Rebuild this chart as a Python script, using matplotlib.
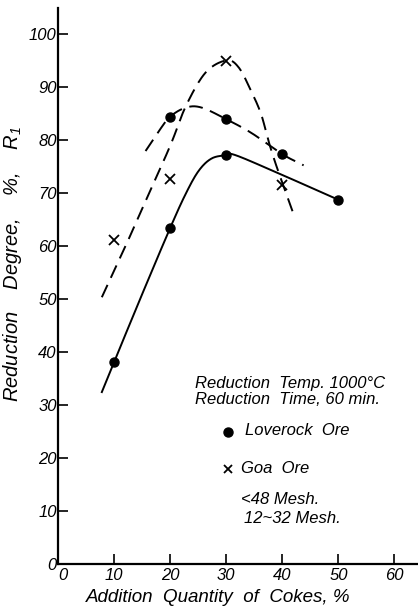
import numpy as np
import matplotlib
matplotlib.use("Agg")
import matplotlib.pyplot as plt

plt.rcParams["font.family"] = ["Liberation Sans", "DejaVu Sans"]
plt.rcParams["font.style"] = "italic"
plt.rcParams["mathtext.fontset"] = "custom"
plt.rcParams["mathtext.it"] = "Liberation Sans:italic"
plt.rcParams["mathtext.rm"] = "Liberation Sans:italic"

# measured points
loverock_fine_x = [10, 20, 30, 50]
loverock_fine_y = [38.2, 63.5, 77.2, 68.8]
loverock_coarse_x = [20, 30, 40]
loverock_coarse_y = [84.5, 84.0, 77.4]
goa_x = [10, 20, 30, 40]
goa_y = [61.2, 72.8, 95.0, 71.5]

# hand-faired curves (anchor points along each drawn line)
solid_curve_x = [7.8, 10, 15, 20, 22.8, 25.1, 27.4, 30, 31.7, 39.3, 50]
solid_curve_y = [32.5, 38.2, 51.0, 63.5, 70.0, 74.3, 76.6, 77.2, 77.2, 73.8, 68.8]
coarse_curve_x = [15.6, 18, 20, 22.8, 25.6, 30, 34.5, 40, 43.8]
coarse_curve_y = [78.0, 81.8, 84.5, 86.2, 86.2, 84.0, 81.4, 77.4, 75.3]
goa_curve_x = [7.8, 12, 16, 20, 22.8, 26.3, 30, 32.2, 34.4, 36.2, 37.5, 39, 42.2]
goa_curve_y = [50.4, 60.0, 69.5, 79.0, 86.5, 92.8, 95.1, 93.8, 89.4, 85.0, 80.0, 75.0, 65.5]

xticks = [0, 10, 20, 30, 40, 50, 60]
yticks = [0, 10, 20, 30, 40, 50, 60, 70, 80, 90, 100]


def smooth(xs, ys, n=20):
    # Catmull-Rom through the anchor points
    p = np.column_stack([xs, ys]).astype(float)
    p = np.vstack([2 * p[0] - p[1], p, 2 * p[-1] - p[-2]])
    out = []
    t = np.linspace(0, 1, n, endpoint=False)[:, None]
    for i in range(1, len(p) - 2):
        p0, p1, p2, p3 = p[i - 1], p[i], p[i + 1], p[i + 2]
        seg = 0.5 * ((2 * p1) + (-p0 + p2) * t
                     + (2 * p0 - 5 * p1 + 4 * p2 - p3) * t ** 2
                     + (-p0 + 3 * p1 - 3 * p2 + p3) * t ** 3)
        out.append(seg)
    out.append(p[-2][None, :])
    out = np.vstack(out)
    return out[:, 0], out[:, 1]


fig = plt.figure(figsize=(4.18, 6.14), dpi=100)
ax = fig.add_axes([0.139, 0.081, 0.861, 0.906])

lw = 1.4
dash = (0, (7, 4))
ax.plot(*smooth(solid_curve_x, solid_curve_y), color="black", lw=lw)
ax.plot(*smooth(coarse_curve_x, coarse_curve_y), color="black", lw=lw, linestyle=dash)
ax.plot(*smooth(goa_curve_x, goa_curve_y), color="black", lw=lw, linestyle=dash)

ax.plot(loverock_fine_x, loverock_fine_y, "o", color="black", ms=6.5, ls="none")
ax.plot(loverock_coarse_x, loverock_coarse_y, "o", color="black", ms=6.5, ls="none")
ax.plot(goa_x, goa_y, "x", color="black", ms=7, mew=1.3, ls="none")

ax.set_xlim(0, 64.2)
ax.set_ylim(0, 105)
ax.set_xticks(xticks)
ax.set_yticks(yticks)
ax.set_xticklabels([str(v) for v in xticks], fontsize=12)
ax.set_yticklabels([str(v) for v in yticks], fontsize=12)
ax.tick_params(axis="both", direction="in", length=7, width=1.2, pad=3)
ax.tick_params(axis="y", pad=1)
# keep the two origin zeros apart
ax.get_xticklabels()[0].set_horizontalalignment("left")
for side in ("top", "right"):
    ax.spines[side].set_visible(False)
for side in ("left", "bottom"):
    ax.spines[side].set_linewidth(1.6)

ax.set_xlabel("Addition  Quantity  of  Cokes, %", fontsize=13.5)
ax.xaxis.set_label_coords(0.444, -0.045)
ax.set_ylabel("Reduction    Degree,    %,    $R_1$", fontsize=14.5)
ax.yaxis.set_label_coords(-0.095, 0.54)

txt = dict(fontsize=12, ha="left", va="center")
ax.text(24.5, 34.1, "Reduction  Temp. 1000°C", **txt)
ax.text(24.5, 31.1, "Reduction  Time, 60 min.", **txt)
ax.plot([30.3], [25.0], "o", color="black", ms=6.5)
ax.text(33.4, 25.2, "Loverock  Ore", **txt)
ax.plot([30.3], [18.0], "x", color="black", ms=6, mew=1.3)
ax.text(32.7, 18.0, "Goa  Ore", **txt)
ax.text(32.6, 12.3, "<48 Mesh.", **txt)
ax.text(33.1, 8.6, "12~32 Mesh.", **txt)

fig.savefig("out.png", dpi=100)
